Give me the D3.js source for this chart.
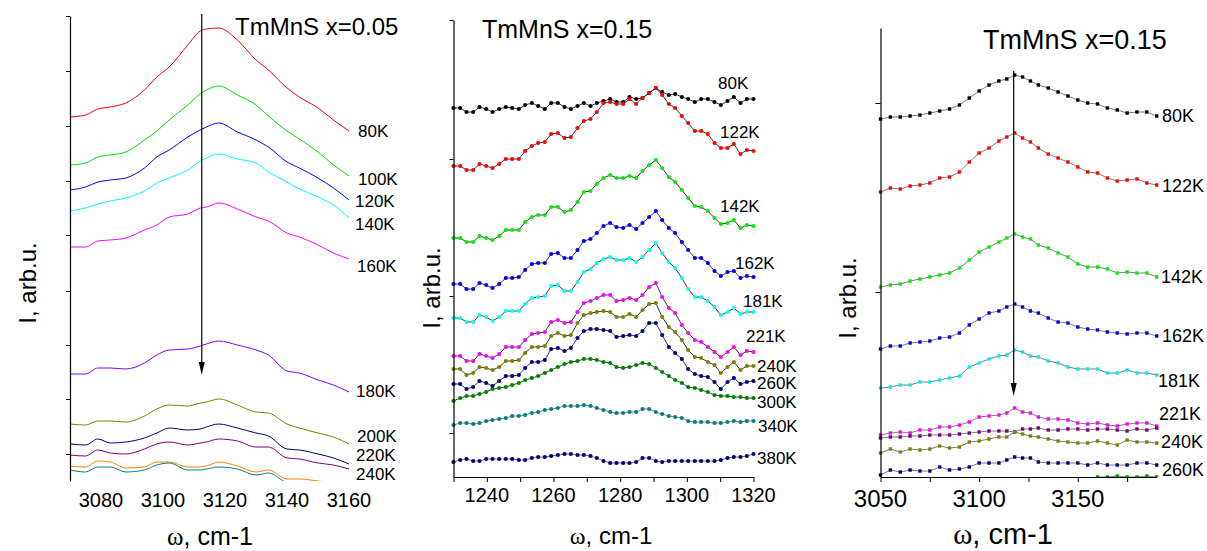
<!DOCTYPE html>
<html>
<head>
<meta charset="utf-8">
<script src="https://cdn.jsdelivr.net/npm/d3@7"></script>
<style>
  body { margin: 0; background: #fff; }
  text { font-family: Arial, "Liberation Sans", sans-serif; fill: #000; }
</style>
</head>
<body>
<svg id="chart" width="1207" height="551"></svg>
<script>
// ---------- panel 1 : TmMnS x=0.05 (lines) ----------
var p1W = [3070,3075,3079,3083,3088,3094,3098,3102,3108,3112,3114,3118,3124,3130,3134,3140,3144,3150,3155,3160];
var p1_80K  = [364,366,372,374,378,391,404,414,436,450,452,453,441,421,411,393,384,373,361,350];
var p1_100K = [316,318,324,326,329,341,350,361,376,387,391,395,386,376,365,350,342,329,316,305];
var p1_120K = [291,294,299,301,303,313,324,331,344,351,354,358,349,341,334,319,313,303,293,281];
var p1_140K = [270,273,277,280,283,290,298,303,311,320,323,327,322,318,309,299,292,284,276,263];
var p1_160K = [234,234,240,241,243,251,256,264,267,273,274,278,272,264,260,248,244,236,228,222];
var p1_180K = [107,107,113,113,112,118,126,131,132,135,137,140,136,131,126,110,108,101,96,89];
var p1_200K = [57,56,60,60,59,65,72,76,75,78,79,82,76,69,68,57,53,48,44,37];
var p1_220K = [37,36,42,38,39,43,48,53,51,52,54,57,53,48,45,32,31,27,23,17];
var p1_240K = [26,25,31,28,27,32,37,39,36,38,39,42,40,34,34,23,22,18,16,12];
var p1_orange = [15,14,20,19,13,14,19,19,14,14,15,19,15,9,11,2,2,0,-2,-5];
var p1_teal   = [11,9,14,14,9,11,16,18,11,11,12,14,12,6,8,-2,-6,-7,-9,-11];
var p1Ticks = [465,410,355,300,246,190,136,82,27];
var p1XTicks = [3080,3100,3120,3140,3160];

// ---------- panel 2 : TmMnS x=0.15, 1230-1320 ----------
var p2W = [1230.0,1232.0,1233.9,1235.9,1237.8,1239.8,1241.7,1243.7,1245.7,1247.6,1249.6,1251.5,1253.5,1255.4,1257.4,1259.3,
  1261.3,1263.3,1265.2,1267.2,1269.1,1271.1,1273.0,1275.0,1277.0,1278.9,1280.9,1282.8,1284.8,1286.7,1288.7,1290.7,
  1292.6,1294.6,1296.5,1298.5,1300.4,1302.4,1304.3,1306.3,1308.3,1310.2,1312.2,1314.1,1316.1,1318.0,1320.0];
var p2_80K  = [369,369,365,365,370,368,365,368,370,369,368,372,374,371,368,374,374,370,368,371,374,371,374,376,378,375,375,380,378,379,384,389,385,382,383,380,378,375,378,378,375,372,376,380,374,378,378];
var p2_122K = [311,311,307,307,313,311,309,313,318,318,318,326,331,334,335,343,344,339,340,349,356,358,365,374,375,373,373,378,373,379,384,389,382,373,369,361,354,346,346,343,334,329,329,333,323,327,326];
var p2_142K = [239,239,235,235,241,239,237,241,247,247,247,255,260,262,262,270,270,265,267,275,285,286,293,299,302,299,299,301,299,306,312,317,309,300,295,287,279,271,270,266,259,253,254,257,249,252,251];
var p2_162K = [193,193,188,188,194,192,189,193,199,199,200,207,213,214,214,223,224,219,219,227,236,238,244,251,254,250,249,252,248,254,260,266,257,249,244,235,227,219,219,214,206,201,205,206,199,201,200];
var p2_181K = [159,159,155,155,162,160,156,160,166,166,166,173,179,180,181,191,192,186,186,195,205,208,214,218,220,217,217,219,215,220,227,234,224,215,209,199,188,180,180,176,170,162,165,169,163,165,165];
var p2_221K = [121,121,116,116,123,121,119,123,130,130,130,137,143,144,145,155,157,154,155,165,174,176,179,182,182,176,177,179,177,182,190,194,180,169,164,152,144,137,135,130,125,120,125,130,122,126,125];
var p2_240K = [108,108,102,104,110,109,107,110,116,116,117,124,130,130,131,141,144,141,142,154,162,164,165,166,165,160,160,163,160,167,173,174,160,150,145,137,127,120,119,115,112,104,110,115,107,111,111];
var p2_260K = [93,93,88,90,96,94,91,96,101,101,102,109,115,115,117,128,129,126,129,139,146,148,148,147,146,140,141,142,141,146,154,154,142,130,124,118,108,103,101,100,95,88,95,99,93,95,96];
var p2_300K = [76,79,81,81,83,85,88,89,90,92,94,97,99,101,104,107,110,113,115,116,118,118,117,115,114,110,109,110,112,114,113,109,105,101,97,94,90,89,87,85,82,81,81,80,80,79,79];
var p2_340K = [52,54,54,53,54,56,57,58,59,61,61,62,64,65,67,68,69,71,71,71,72,71,69,67,65,64,64,65,65,68,68,65,63,61,60,59,56,55,55,55,54,54,55,56,55,56,56];
var p2_380K = [15,17,18,16,16,18,18,18,18,18,17,17,19,20,20,21,22,23,23,22,22,21,19,16,14,14,14,14,15,19,19,16,15,16,16,16,16,16,16,16,16,17,19,20,20,21,23];
var p2Ticks = [457,318,181,44];
var p2XTicks = [1230,1240,1250,1260,1270,1280,1290,1300,1310,1320];
var p2XLabels = [1240,1260,1280,1300,1320];

// ---------- panel 3 : TmMnS x=0.15, 3050-3190 ----------
var p3W = [3050,3055,3060,3065,3070,3075,3080,3085,3090,3095,3100,3105,3110,3114,3118,3122,3126,3130,3135,3140,3145,3150,3155,3160,3165,3170,3175,3180,3185,3190];
var p3_80K  = [358,360,360,361,362,364,366,368,372,379,386,392,396,398,402,400,396,392,389,385,381,377,374,373,369,367,364,365,365,361];
var p3_122K = [285,289,288,291,292,294,299,300,305,315,324,329,336,340,344,339,335,329,323,319,315,310,305,304,299,296,297,298,294,292];
var p3_142K = [190,192,193,196,198,200,202,204,209,217,225,230,235,239,243,240,238,232,229,224,220,213,210,210,208,204,205,204,204,200];
var p3_162K = [128,131,131,134,135,136,139,140,144,152,158,164,166,170,173,170,166,164,159,155,154,150,148,147,145,144,143,144,144,141];
var p3_181K = [89,90,92,92,95,95,97,99,101,110,114,118,121,122,127,125,121,120,116,114,110,108,108,108,104,104,107,104,104,102];
var p3_221K = [42,44,45,44,47,47,50,50,52,55,60,61,62,64,69,65,64,60,58,58,57,54,53,54,52,51,53,54,54,51];
var p3_purple = [39,40,40,41,41,42,42,42,43,44,45,46,46,46,45,48,48,49,47,47,48,48,47,48,48,47,46,48,47,49];
var p3_240K = [24,28,25,28,27,28,31,29,30,35,36,38,40,40,45,43,41,40,38,36,35,34,34,36,34,32,37,35,35,34];
var p3_260K = [2,7,5,7,6,6,10,7,8,10,14,14,14,17,20,19,19,15,14,14,14,14,12,14,12,12,12,14,14,12];
var p3GreenW = [3155,3160,3165,3170,3175,3180,3185,3190];
var p3_green = [-3,0,0,1,0,0,1,0];
var p3Ticks = [374,185];
var p3XTicks = [3050,3075,3100,3125,3150,3175];
var p3XLabels = [3050,3100,3150];

var svg = d3.select("#chart");

function pts(xs, ys) {
  return xs.map(function (x, i) { return {x: x, y: ys[i]}; });
}

function clip(id, x, y, w, h) {
  svg.append("clipPath").attr("id", id).append("rect")
    .attr("x", x).attr("y", y).attr("width", w).attr("height", h);
}

/* ================= panel 1 ================= */
var x1 = d3.scaleLinear().domain([3070, 3160]).range([70, 349]);
var y1 = d3.scaleLinear().domain([0, 465]).range([481, 16]);
clip("c1", 70, 10, 290, 471);

var s1 = [
  {v: p1_80K,  c: "#ff0000", t: "80K",  lx: 358, ly: 137},
  {v: p1_100K, c: "#00dd00", t: "100K", lx: 358, ly: 185},
  {v: p1_120K, c: "#0000ff", t: "120K", lx: 355, ly: 207},
  {v: p1_140K, c: "#00ffff", t: "140K", lx: 355, ly: 230},
  {v: p1_160K, c: "#ff00ff", t: "160K", lx: 357, ly: 272},
  {v: p1_180K, c: "#8000ff", t: "180K", lx: 356, ly: 397},
  {v: p1_200K, c: "#808000", t: "200K", lx: 357, ly: 442},
  {v: p1_220K, c: "#000080", t: "220K", lx: 356, ly: 461},
  {v: p1_240K, c: "#800080", t: "240K", lx: 356, ly: 480},
  {v: p1_orange, c: "#ff8000", t: null},
  {v: p1_teal,   c: "#008080", t: null}
];

var line1 = d3.line().x(function (d) { return x1(d.x); }).y(function (d) { return y1(d.y); })
  .curve(d3.curveMonotoneX);

var g1 = svg.append("g");
g1.append("g").attr("clip-path", "url(#c1)").selectAll("path").data(s1).enter().append("path")
  .attr("d", function (d) { return line1(pts(p1W, d.v)); })
  .attr("fill", "none").attr("stroke", function (d) { return d.c; }).attr("stroke-width", 1);

g1.append("g").attr("transform", "translate(70,0)")
  .call(d3.axisLeft(y1).tickValues(p1Ticks).tickSize(4).tickSizeOuter(0).tickFormat(""));

g1.selectAll(".xl").data(p1XTicks).enter().append("text")
  .attr("x", function (d) { return x1(d); }).attr("y", 507)
  .attr("text-anchor", "middle").attr("font-size", 20).text(function (d) { return d; });

g1.selectAll(".lab").data(s1.filter(function (d) { return d.t; })).enter().append("text")
  .attr("x", function (d) { return d.lx; }).attr("y", function (d) { return d.ly; })
  .attr("font-size", 17).text(function (d) { return d.t; });

g1.append("text").attr("x", 235).attr("y", 35).attr("font-size", 24).text("TmMnS x=0.05");

/* ================= panel 2 ================= */
var x2 = d3.scaleLinear().domain([1230, 1320]).range([453.5, 753.5]);
var y2 = d3.scaleLinear().domain([0, 457]).range([477, 20]);

var s2 = [
  {v: p2_80K,  c: "#000000", l: "#222", t: "80K",  lx: 718, ly: 89},
  {v: p2_122K, c: "#ff0000", l: "#222", t: "122K", lx: 720, ly: 138},
  {v: p2_142K, c: "#00ee00", l: "#222", t: "142K", lx: 720, ly: 212},
  {v: p2_162K, c: "#0000ff", l: "#222", t: "162K", lx: 735, ly: 269},
  {v: p2_181K, c: "#00ffff", l: "#222", t: "181K", lx: 743, ly: 307},
  {v: p2_221K, c: "#ff00ff", l: "#222", t: "221K", lx: 746, ly: 342},
  {v: p2_240K, c: "#808000", l: "#222", t: "240K", lx: 757, ly: 372},
  {v: p2_260K, c: "#000080", l: "#222", t: "260K", lx: 757, ly: 389},
  {v: p2_300K, c: "#008000", l: "#1a401a", t: "300K", lx: 757, ly: 408},
  {v: p2_340K, c: "#008080", l: "#777", t: "340K", lx: 758, ly: 432},
  {v: p2_380K, c: "#000080", l: "#666", t: "380K", lx: 757, ly: 464}
];

var line2 = d3.line().x(function (d) { return x2(d.x); }).y(function (d) { return y2(d.y); });
var g2 = svg.append("g");
var ser2 = g2.selectAll(".s2").data(s2).enter().append("g");
ser2.append("path").attr("d", function (d) { return line2(pts(p2W, d.v)); })
  .attr("fill", "none").attr("stroke", function (d) { return d.l; }).attr("stroke-width", 0.9);
ser2.each(function (d) {
  d3.select(this).selectAll("circle").data(pts(p2W, d.v)).enter().append("circle")
    .attr("cx", function (p) { return x2(p.x); }).attr("cy", function (p) { return y2(p.y); })
    .attr("r", 2.1).attr("fill", d.c);
});

g2.append("g").attr("transform", "translate(453.5,0)")
  .call(d3.axisLeft(y2).tickValues(p2Ticks).tickSize(4).tickSizeOuter(0).tickFormat(""));
g2.append("g").attr("transform", "translate(0,477)")
  .call(d3.axisBottom(x2).tickValues(p2XTicks).tickSize(5).tickSizeOuter(0).tickFormat(""));
g2.selectAll(".xl").data(p2XLabels).enter().append("text")
  .attr("x", function (d) { return x2(d); }).attr("y", 502)
  .attr("text-anchor", "middle").attr("font-size", 20).text(function (d) { return d; });
g2.selectAll(".lab").data(s2).enter().append("text")
  .attr("x", function (d) { return d.lx; }).attr("y", function (d) { return d.ly; })
  .attr("font-size", 17).text(function (d) { return d.t; });
g2.append("text").attr("x", 482).attr("y", 38).attr("font-size", 25).text("TmMnS x=0.15");

/* ================= panel 3 ================= */
var x3 = d3.scaleLinear().domain([3050, 3190]).range([880.5, 1156.7]);
var y3 = d3.scaleLinear().domain([0, 449]).range([477, 28]);
clip("c3", 878, 20, 285, 457);

var s3 = [
  {w: p3W, v: p3_80K,  c: "#000000", t: "80K",  lx: 1162, ly: 122},
  {w: p3W, v: p3_122K, c: "#ff0000", t: "122K", lx: 1162, ly: 192},
  {w: p3W, v: p3_142K, c: "#00ee00", t: "142K", lx: 1161, ly: 283},
  {w: p3W, v: p3_162K, c: "#0000ee", t: "162K", lx: 1162, ly: 342},
  {w: p3W, v: p3_181K, c: "#00eeee", t: "181K", lx: 1158, ly: 387},
  {w: p3W, v: p3_221K, c: "#ff00ff", t: "221K", lx: 1159, ly: 420},
  {w: p3W, v: p3_purple, c: "#800080", t: null},
  {w: p3W, v: p3_240K, c: "#808000", t: "240K", lx: 1161, ly: 448},
  {w: p3W, v: p3_260K, c: "#000080", t: "260K", lx: 1162, ly: 476},
  {w: p3GreenW, v: p3_green, c: "#00a000", t: null}
];

var line3 = d3.line().x(function (d) { return x3(d.x); }).y(function (d) { return y3(d.y); });
var g3 = svg.append("g");
var ser3 = g3.append("g").attr("clip-path", "url(#c3)").selectAll(".s3").data(s3).enter().append("g");
ser3.append("path").attr("d", function (d) { return line3(pts(d.w, d.v)); })
  .attr("fill", "none").attr("stroke", "#222").attr("stroke-width", 0.6);
ser3.each(function (d) {
  d3.select(this).selectAll("rect").data(pts(d.w, d.v)).enter().append("rect")
    .attr("x", function (p) { return x3(p.x) - 1.7; }).attr("y", function (p) { return y3(p.y) - 1.7; })
    .attr("width", 3.4).attr("height", 3.4).attr("fill", d.c);
});

g3.append("g").attr("transform", "translate(880.5,0)")
  .call(d3.axisLeft(y3).tickValues(p3Ticks).tickSize(5).tickSizeOuter(0).tickFormat(""));
g3.append("g").attr("transform", "translate(0,477)")
  .call(d3.axisBottom(x3).tickValues(p3XTicks).tickSize(5).tickSizeOuter(0).tickFormat(""));
g3.selectAll(".xl").data(p3XLabels).enter().append("text")
  .attr("x", function (d) { return x3(d); }).attr("y", 507)
  .attr("text-anchor", "middle").attr("font-size", 24).text(function (d) { return d; });
g3.selectAll(".lab").data(s3.filter(function (d) { return d.t; })).enter().append("text")
  .attr("x", function (d) { return d.lx; }).attr("y", function (d) { return d.ly; })
  .attr("font-size", 18).text(function (d) { return d.t; });
g3.append("text").attr("x", 983).attr("y", 49).attr("font-size", 27).text("TmMnS x=0.15");

/* arrows */
function arrow(x, yTop, yTip) {
  svg.append("line").attr("x1", x).attr("x2", x).attr("y1", yTop).attr("y2", yTip - 8)
    .attr("stroke", "#000").attr("stroke-width", 1.2);
  svg.append("path").attr("d", "M" + (x - 3) + "," + (yTip - 13) + "L" + x + "," + yTip + "L" + (x + 3) + "," + (yTip - 13) + "Z")
    .attr("fill", "#000");
}
arrow(x1(3112.5), 14, 375);
arrow(x3(3117.5), 71, 396);

/* axis titles */
function xTitle(cx, y, size) {
  var t = svg.append("text").attr("x", cx).attr("y", y).attr("text-anchor", "middle").attr("font-size", size);
  t.append("tspan").attr("font-family", "'Liberation Serif', 'Times New Roman', serif").text("ω");
  t.append("tspan").text(", cm-1");
}
xTitle(210, 545, 25);
xTitle(611, 544, 24);
xTitle(1003, 544, 29);

function yTitle(cx, cy, size) {
  svg.append("text").attr("transform", "translate(" + cx + "," + cy + ") rotate(-90)")
    .attr("text-anchor", "middle").attr("font-size", size).text("I, arb.u.");
}
yTitle(36, 283, 24);
yTitle(440, 288, 24);
yTitle(856, 298, 24);

svg.selectAll(".domain").attr("stroke", "#000").attr("stroke-width", 1.2);
svg.selectAll(".tick line").attr("stroke", "#000");
</script>
</body>
</html>
